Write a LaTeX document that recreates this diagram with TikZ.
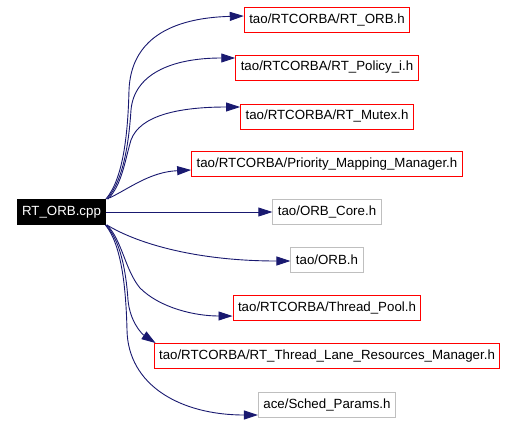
\documentclass[tikz,border=0pt]{standalone}
\usepackage{fontspec}
\setmainfont{Liberation Sans}
\usetikzlibrary{arrows.meta}
\definecolor{edgeblue}{HTML}{191970}
\definecolor{extgray}{HTML}{BFBFBF}
\tikzset{
  filebox/.style={draw, line width=1pt, font=\fontsize{13.3}{16}\selectfont, inner xsep=5pt, inner ysep=0pt, minimum height=25pt, anchor=center},
  fileref/.style={filebox, draw=red},
  fileext/.style={filebox, draw=extgray},
  mainbox/.style={filebox, draw=black, fill=black, text=white},
  dep/.style={draw=edgeblue, line width=0.9pt, -{Triangle[length=14pt,width=9pt]}, fill=none},
}
\begin{document}
\begin{tikzpicture}[x=1pt,y=-1pt]
\useasboundingbox (0,0) rectangle (518,423);
\node[mainbox] (cpp) at (61.5,212) {RT\_ORB.cpp};
\node[fileref] (n1) at (327,20) {tao/RTCORBA/RT\_ORB.h};
\node[fileref] (n2) at (327,67.5) {tao/RTCORBA/RT\_Policy\_i.h};
\node[fileref] (n3) at (327,116.5) {tao/RTCORBA/RT\_Mutex.h};
\node[fileref] (n4) at (327,164) {tao/RTCORBA/Priority\_Mapping\_Manager.h};
\node[fileext] (n5) at (327,212) {tao/ORB\_Core.h};
\node[fileext] (n6) at (327,259.5) {tao/ORB.h};
\node[fileref] (n7) at (327,307.5) {tao/RTCORBA/Thread\_Pool.h};
\node[fileref] (n8) at (327,356) {tao/RTCORBA/RT\_Thread\_Lane\_Resources\_Manager.h};
\node[fileext] (n9) at (327,404.5) {ace/Sched\_Params.h};

\coordinate (t1) at (n1.west |- 0,16);
\coordinate (t2) at (n2.west |- 0,58);
\coordinate (t3) at (n3.west |- 0,107);
\coordinate (t4) at (n4.west |- 0,170);
\coordinate (t6) at (n6.west |- 0,261);
\coordinate (t7) at (n7.west |- 0,316);
\coordinate (t8) at ([xshift=2pt]n8.north west);
\coordinate (t9) at (n9.west |- 0,415);

\draw[dep] ([xshift=-0.5pt]cpp.north east) .. controls (124,178) and (128,130) .. (129,90) .. controls (131,40) and (170,18) .. (t1);
\draw[dep] ([xshift=0.5pt]cpp.north east) .. controls (124,180) and (129,140) .. (131,110) .. controls (134,75) and (170,58) .. (t2);
\draw[dep] ([xshift=1.5pt]cpp.north east) .. controls (122,185) and (125,160) .. (131,140) .. controls (140,115) and (180,107) .. (t3);
\draw[dep] ([xshift=3pt,yshift=1pt]cpp.north east) .. controls (130,188) and (150,172) .. (t4);
\draw[dep] (cpp.east) -- (n5.west);
\draw[dep] ([xshift=0.5pt]cpp.south east) .. controls (140,245) and (200,261) .. (t6);
\draw[dep] ([xshift=0.5pt]cpp.south east) .. controls (122,240) and (125,270) .. (140,288) .. controls (160,308) and (195,316) .. (t7);
\draw[dep] ([xshift=-0.5pt]cpp.south east) .. controls (120,240) and (126,270) .. (128,300) .. controls (130,322) and (142,334) .. (t8);
\draw[dep] ([xshift=-1pt]cpp.south east) .. controls (122,245) and (126,290) .. (127,330) .. controls (128,385) and (180,415) .. (t9);
\end{tikzpicture}
\end{document}
